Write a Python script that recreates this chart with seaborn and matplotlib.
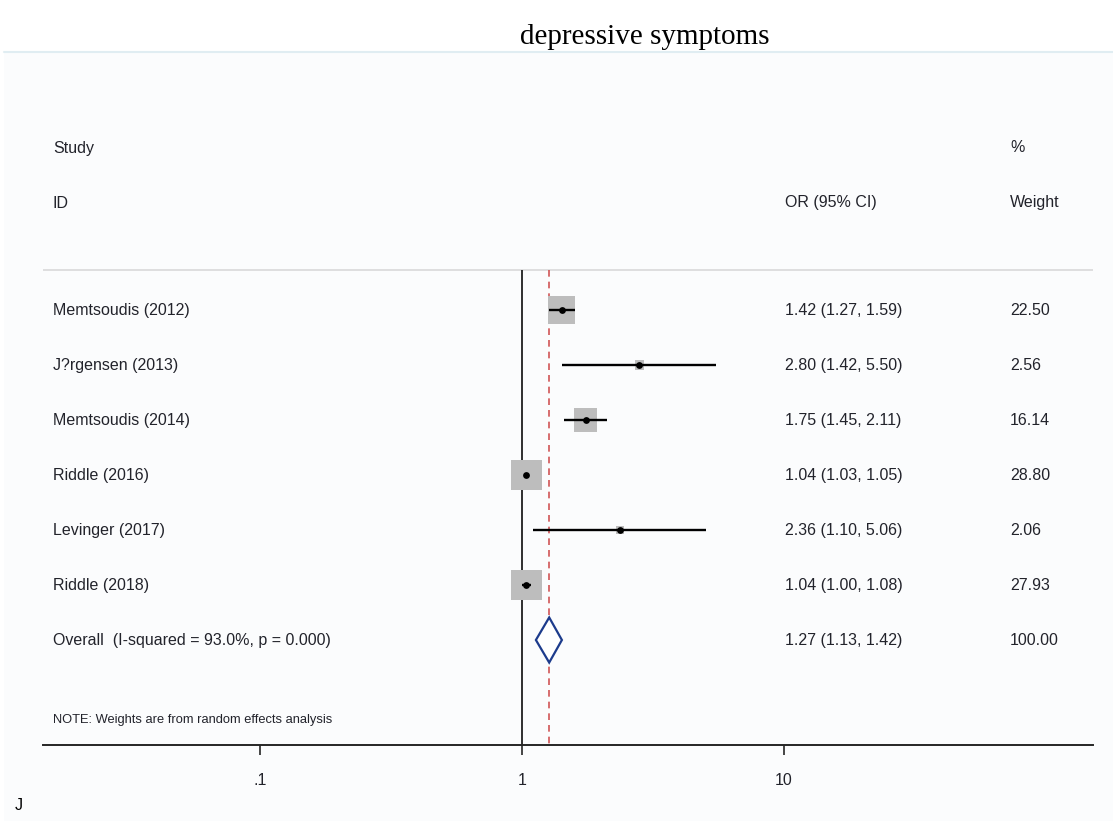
import numpy as np
import pandas as pd
import matplotlib
matplotlib.use("Agg")
import matplotlib.pyplot as plt
import matplotlib.transforms as mtransforms
import seaborn as sns

# ---------------- data ----------------
studies = ["Memtsoudis (2012)", "J?rgensen (2013)", "Memtsoudis (2014)",
           "Riddle (2016)", "Levinger (2017)", "Riddle (2018)"]
or_vals = [1.42, 2.80, 1.75, 1.04, 2.36, 1.04]
ci_low = [1.27, 1.42, 1.45, 1.03, 1.10, 1.00]
ci_high = [1.59, 5.50, 2.11, 1.05, 5.06, 1.08]
weights = [22.50, 2.56, 16.14, 28.80, 2.06, 27.93]

overall_label = "Overall  (I-squared = 93.0%, p = 0.000)"
overall_or = 1.27
overall_low = 1.13
overall_high = 1.42
overall_weight = 100.00

xticks = [0.1, 1, 10]
xtick_labels = [".1", "1", "10"]
title = "depressive symptoms"
note = "NOTE: Weights are from random effects analysis"

# ---------------- figure ----------------
sns.set_style("white")
plt.rcParams["font.family"] = ["Liberation Sans", "DejaVu Sans"]

W, H = 1113, 821
fig = plt.figure(figsize=(W / 100, H / 100), dpi=100)
fig.patch.set_facecolor("white")

# faint panel background / separator like the source image
fig.add_artist(plt.Rectangle((0.004, 0.0), 0.996, 1 - 52 / H,
                             transform=fig.transFigure, facecolor="#fbfcfd",
                             edgecolor="none", zorder=-10))
fig.add_artist(plt.Line2D([0.004, 1.0], [1 - 52 / H, 1 - 52 / H],
                          transform=fig.transFigure, color="#e0edf2", lw=1.5))

ax_l, ax_r = 43, 1093
ax_top, ax_bot = 60, 745
ax = fig.add_axes([ax_l / W, 1 - ax_bot / H, (ax_r - ax_l) / W, (ax_bot - ax_top) / H])
ax.set_facecolor("none")

row0_px, row_sp = 310, 55
def ypx(p):
    return (p - row0_px) / row_sp

n = len(studies)
rows = np.arange(n)
df = pd.DataFrame({"study": studies, "OR": or_vals, "lo": ci_low, "hi": ci_high,
                   "w": weights, "row": rows})

ax.set_xscale("log")
log_lo = (ax_l - 522) / 262.0
log_hi = (ax_r - 522) / 262.0
ax.set_xlim(10 ** log_lo, 10 ** log_hi)
ax.set_ylim(ypx(ax_bot), ypx(ax_top))

top_line_y = ypx(270)
# reference lines
ax.vlines(1, top_line_y, ypx(ax_bot), color="#1f1f1f", lw=1.3, zorder=2)
ax.vlines(overall_or, top_line_y, ypx(ax_bot), color="#d05555", lw=1.2,
          linestyles=(0, (4, 3)), zorder=2)
ax.axhline(top_line_y, color="#d9d9d9", lw=1.2, zorder=1)

# weight boxes (area proportional to weight)
k = 17.0
sns.scatterplot(data=df, x="OR", y="row", size="w", sizes=(k * min(weights), k * max(weights)),
                size_norm=(min(weights), max(weights)), marker="s", color="#bdbdbd",
                edgecolor="none", linewidth=0, legend=False, ax=ax, zorder=3)
# confidence intervals
ax.hlines(df["row"], df["lo"], df["hi"], color="black", lw=1.7, zorder=4)
# point estimates
sns.scatterplot(data=df, x="OR", y="row", color="black", s=24, edgecolor="black",
                linewidth=0, legend=False, ax=ax, zorder=5)

# overall diamond
oy = n
dh = 0.41
ax.fill([overall_low, overall_or, overall_high, overall_or],
        [oy, oy - dh, oy, oy + dh], facecolor="white", edgecolor="#1c3b8c",
        lw=1.6, zorder=4)

# text columns
trans = mtransforms.blended_transform_factory(ax.transAxes, ax.transData)
def fx(p):
    return (p - ax_l) / (ax_r - ax_l)

fs = 11.5
tc = "#22232b"
ax.text(fx(53), ypx(148), "Study", transform=trans, ha="left", va="center", fontsize=fs, color=tc)
ax.text(fx(53), ypx(203), "ID", transform=trans, ha="left", va="center", fontsize=fs, color=tc)
ax.text(fx(785), ypx(203), "OR (95% CI)", transform=trans, ha="left", va="center", fontsize=fs, color=tc)
ax.text(fx(1010), ypx(147), "%", transform=trans, ha="left", va="center", fontsize=fs, color=tc)
ax.text(fx(1010), ypx(203), "Weight", transform=trans, ha="left", va="center", fontsize=fs, color=tc)

for i in range(n):
    ax.text(fx(53), rows[i], studies[i], transform=trans, ha="left", va="center", fontsize=fs, color=tc)
    ax.text(fx(785), rows[i], f"{or_vals[i]:.2f} ({ci_low[i]:.2f}, {ci_high[i]:.2f})",
            transform=trans, ha="left", va="center", fontsize=fs, color=tc)
    ax.text(fx(1010), rows[i], f"{weights[i]:.2f}", transform=trans, ha="left",
            va="center", fontsize=fs, color=tc)

ax.text(fx(53), oy, overall_label, transform=trans, ha="left", va="center", fontsize=fs, color=tc)
ax.text(fx(785), oy, f"{overall_or:.2f} ({overall_low:.2f}, {overall_high:.2f})",
        transform=trans, ha="left", va="center", fontsize=fs, color=tc)
ax.text(fx(1010), oy, f"{overall_weight:.2f}", transform=trans, ha="left",
        va="center", fontsize=fs, color=tc)
ax.text(fx(53), ypx(720), note, transform=trans, ha="left", va="center", fontsize=9.3, color=tc)

# axes styling
for s in ["top", "left", "right"]:
    ax.spines[s].set_visible(False)
ax.spines["bottom"].set_color("#262626")
ax.spines["bottom"].set_linewidth(1.4)
ax.set_yticks([])
ax.set_xticks(xticks)
ax.set_xticklabels(xtick_labels)
ax.xaxis.set_minor_locator(matplotlib.ticker.NullLocator())
ax.tick_params(axis="x", direction="out", length=7, width=1.2, color="#262626",
               labelsize=11.5, labelcolor=tc, pad=13, bottom=True)
ax.set_xlabel("")
ax.set_ylabel("")

fig.text(645 / W, 1 - 37 / H, title, ha="center", va="center", fontsize=21,
         family=["Liberation Serif", "DejaVu Serif"], color="black")
fig.text(15 / W, 1 - 805 / H, "J", ha="left", va="center", fontsize=11.5, color="black")

fig.savefig("out.png", dpi=100)
